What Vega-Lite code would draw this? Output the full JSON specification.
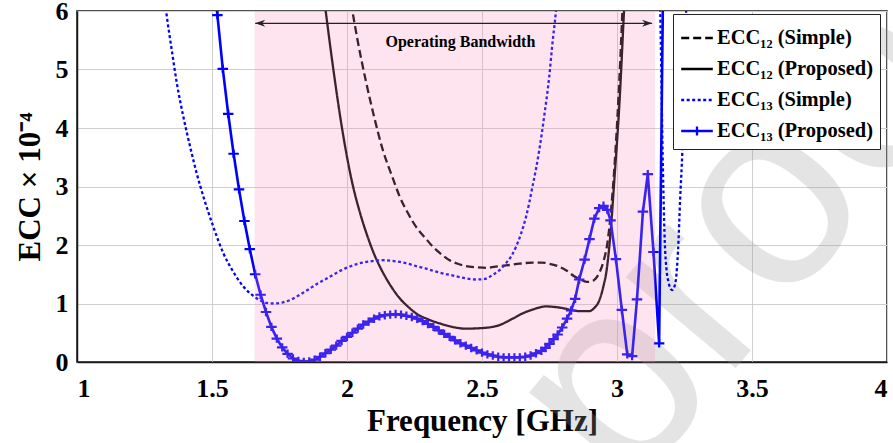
{
  "$schema": "https://vega.github.io/schema/vega-lite/v6.json",
  "width": 810,
  "height": 351,
  "autosize": {"type": "none"},
  "padding": {"left": 77, "top": 11, "right": 6, "bottom": 81},
  "background": "white",
  "config": {
    "view": {"stroke": "#1a1a1a", "strokeWidth": 1.5},
    "axis": {
      "labelFont": "Liberation Serif", "labelFontWeight": "bold", "labelFontSize": 26, "labelColor": "black",
      "titleFont": "Liberation Serif", "titleFontWeight": "bold", "titleFontSize": 31, "titleColor": "black",
      "gridColor": "#cfcfcf", "gridWidth": 1, "domainColor": "#1a1a1a", "domainWidth": 1.5, "ticks": false
    }
  },
  "datasets": {
    "curves": [
      {"series": "ECC₁₂ (Simple)", "seg": 1, "freq": 2.00, "ecc": 6.55},
      {"series": "ECC₁₂ (Simple)", "seg": 1, "freq": 2.02, "ecc": 6.0},
      {"series": "ECC₁₂ (Simple)", "seg": 1, "freq": 2.04, "ecc": 5.48},
      {"series": "ECC₁₂ (Simple)", "seg": 1, "freq": 2.07, "ecc": 4.8},
      {"series": "ECC₁₂ (Simple)", "seg": 1, "freq": 2.10, "ecc": 4.2},
      {"series": "ECC₁₂ (Simple)", "seg": 1, "freq": 2.133, "ecc": 3.62},
      {"series": "ECC₁₂ (Simple)", "seg": 1, "freq": 2.165, "ecc": 3.2},
      {"series": "ECC₁₂ (Simple)", "seg": 1, "freq": 2.195, "ecc": 2.83},
      {"series": "ECC₁₂ (Simple)", "seg": 1, "freq": 2.225, "ecc": 2.55},
      {"series": "ECC₁₂ (Simple)", "seg": 1, "freq": 2.256, "ecc": 2.31},
      {"series": "ECC₁₂ (Simple)", "seg": 1, "freq": 2.29, "ecc": 2.12},
      {"series": "ECC₁₂ (Simple)", "seg": 1, "freq": 2.318, "ecc": 1.97},
      {"series": "ECC₁₂ (Simple)", "seg": 1, "freq": 2.35, "ecc": 1.84},
      {"series": "ECC₁₂ (Simple)", "seg": 1, "freq": 2.38, "ecc": 1.74},
      {"series": "ECC₁₂ (Simple)", "seg": 1, "freq": 2.41, "ecc": 1.68},
      {"series": "ECC₁₂ (Simple)", "seg": 1, "freq": 2.441, "ecc": 1.64},
      {"series": "ECC₁₂ (Simple)", "seg": 1, "freq": 2.48, "ecc": 1.62},
      {"series": "ECC₁₂ (Simple)", "seg": 1, "freq": 2.515, "ecc": 1.61},
      {"series": "ECC₁₂ (Simple)", "seg": 1, "freq": 2.55, "ecc": 1.63},
      {"series": "ECC₁₂ (Simple)", "seg": 1, "freq": 2.589, "ecc": 1.65},
      {"series": "ECC₁₂ (Simple)", "seg": 1, "freq": 2.64, "ecc": 1.68},
      {"series": "ECC₁₂ (Simple)", "seg": 1, "freq": 2.687, "ecc": 1.70},
      {"series": "ECC₁₂ (Simple)", "seg": 1, "freq": 2.72, "ecc": 1.70},
      {"series": "ECC₁₂ (Simple)", "seg": 1, "freq": 2.749, "ecc": 1.68},
      {"series": "ECC₁₂ (Simple)", "seg": 1, "freq": 2.78, "ecc": 1.64},
      {"series": "ECC₁₂ (Simple)", "seg": 1, "freq": 2.811, "ecc": 1.57},
      {"series": "ECC₁₂ (Simple)", "seg": 1, "freq": 2.84, "ecc": 1.47},
      {"series": "ECC₁₂ (Simple)", "seg": 1, "freq": 2.86, "ecc": 1.42},
      {"series": "ECC₁₂ (Simple)", "seg": 1, "freq": 2.88, "ecc": 1.38},
      {"series": "ECC₁₂ (Simple)", "seg": 1, "freq": 2.897, "ecc": 1.37},
      {"series": "ECC₁₂ (Simple)", "seg": 1, "freq": 2.915, "ecc": 1.40},
      {"series": "ECC₁₂ (Simple)", "seg": 1, "freq": 2.934, "ecc": 1.52},
      {"series": "ECC₁₂ (Simple)", "seg": 1, "freq": 2.95, "ecc": 1.72},
      {"series": "ECC₁₂ (Simple)", "seg": 1, "freq": 2.965, "ecc": 2.05},
      {"series": "ECC₁₂ (Simple)", "seg": 1, "freq": 2.977, "ecc": 2.55},
      {"series": "ECC₁₂ (Simple)", "seg": 1, "freq": 2.99, "ecc": 3.3},
      {"series": "ECC₁₂ (Simple)", "seg": 1, "freq": 3.005, "ecc": 4.48},
      {"series": "ECC₁₂ (Simple)", "seg": 1, "freq": 3.02, "ecc": 6.0},
      {"series": "ECC₁₂ (Simple)", "seg": 1, "freq": 3.03, "ecc": 7.2},

      {"series": "ECC₁₂ (Proposed)", "seg": 1, "freq": 1.90, "ecc": 6.75},
      {"series": "ECC₁₂ (Proposed)", "seg": 1, "freq": 1.921, "ecc": 6.0},
      {"series": "ECC₁₂ (Proposed)", "seg": 1, "freq": 1.948, "ecc": 5.05},
      {"series": "ECC₁₂ (Proposed)", "seg": 1, "freq": 1.985, "ecc": 3.9},
      {"series": "ECC₁₂ (Proposed)", "seg": 1, "freq": 2.02, "ecc": 3.05},
      {"series": "ECC₁₂ (Proposed)", "seg": 1, "freq": 2.045, "ecc": 2.6},
      {"series": "ECC₁₂ (Proposed)", "seg": 1, "freq": 2.072, "ecc": 2.2},
      {"series": "ECC₁₂ (Proposed)", "seg": 1, "freq": 2.10, "ecc": 1.85},
      {"series": "ECC₁₂ (Proposed)", "seg": 1, "freq": 2.133, "ecc": 1.53},
      {"series": "ECC₁₂ (Proposed)", "seg": 1, "freq": 2.165, "ecc": 1.28},
      {"series": "ECC₁₂ (Proposed)", "seg": 1, "freq": 2.195, "ecc": 1.09},
      {"series": "ECC₁₂ (Proposed)", "seg": 1, "freq": 2.225, "ecc": 0.95},
      {"series": "ECC₁₂ (Proposed)", "seg": 1, "freq": 2.256, "ecc": 0.83},
      {"series": "ECC₁₂ (Proposed)", "seg": 1, "freq": 2.30, "ecc": 0.73},
      {"series": "ECC₁₂ (Proposed)", "seg": 1, "freq": 2.343, "ecc": 0.66},
      {"series": "ECC₁₂ (Proposed)", "seg": 1, "freq": 2.39, "ecc": 0.60},
      {"series": "ECC₁₂ (Proposed)", "seg": 1, "freq": 2.44, "ecc": 0.57},
      {"series": "ECC₁₂ (Proposed)", "seg": 1, "freq": 2.50, "ecc": 0.58},
      {"series": "ECC₁₂ (Proposed)", "seg": 1, "freq": 2.564, "ecc": 0.63},
      {"series": "ECC₁₂ (Proposed)", "seg": 1, "freq": 2.613, "ecc": 0.74},
      {"series": "ECC₁₂ (Proposed)", "seg": 1, "freq": 2.65, "ecc": 0.83},
      {"series": "ECC₁₂ (Proposed)", "seg": 1, "freq": 2.69, "ecc": 0.90},
      {"series": "ECC₁₂ (Proposed)", "seg": 1, "freq": 2.737, "ecc": 0.95},
      {"series": "ECC₁₂ (Proposed)", "seg": 1, "freq": 2.77, "ecc": 0.94},
      {"series": "ECC₁₂ (Proposed)", "seg": 1, "freq": 2.80, "ecc": 0.92},
      {"series": "ECC₁₂ (Proposed)", "seg": 1, "freq": 2.83, "ecc": 0.89},
      {"series": "ECC₁₂ (Proposed)", "seg": 1, "freq": 2.86, "ecc": 0.87},
      {"series": "ECC₁₂ (Proposed)", "seg": 1, "freq": 2.897, "ecc": 0.87},
      {"series": "ECC₁₂ (Proposed)", "seg": 1, "freq": 2.915, "ecc": 0.92},
      {"series": "ECC₁₂ (Proposed)", "seg": 1, "freq": 2.935, "ecc": 1.06},
      {"series": "ECC₁₂ (Proposed)", "seg": 1, "freq": 2.95, "ecc": 1.3},
      {"series": "ECC₁₂ (Proposed)", "seg": 1, "freq": 2.96, "ecc": 1.52},
      {"series": "ECC₁₂ (Proposed)", "seg": 1, "freq": 2.977, "ecc": 2.26},
      {"series": "ECC₁₂ (Proposed)", "seg": 1, "freq": 2.99, "ecc": 3.1},
      {"series": "ECC₁₂ (Proposed)", "seg": 1, "freq": 3.01, "ecc": 4.5},
      {"series": "ECC₁₂ (Proposed)", "seg": 1, "freq": 3.026, "ecc": 6.0},
      {"series": "ECC₁₂ (Proposed)", "seg": 1, "freq": 3.035, "ecc": 6.8},

      {"series": "ECC₁₃ (Simple)", "seg": 1, "freq": 1.31, "ecc": 6.8},
      {"series": "ECC₁₃ (Simple)", "seg": 1, "freq": 1.33, "ecc": 6.0},
      {"series": "ECC₁₃ (Simple)", "seg": 1, "freq": 1.351, "ecc": 5.33},
      {"series": "ECC₁₃ (Simple)", "seg": 1, "freq": 1.37, "ecc": 4.76},
      {"series": "ECC₁₃ (Simple)", "seg": 1, "freq": 1.394, "ecc": 4.19},
      {"series": "ECC₁₃ (Simple)", "seg": 1, "freq": 1.419, "ecc": 3.68},
      {"series": "ECC₁₃ (Simple)", "seg": 1, "freq": 1.443, "ecc": 3.23},
      {"series": "ECC₁₃ (Simple)", "seg": 1, "freq": 1.468, "ecc": 2.83},
      {"series": "ECC₁₃ (Simple)", "seg": 1, "freq": 1.505, "ecc": 2.31},
      {"series": "ECC₁₃ (Simple)", "seg": 1, "freq": 1.542, "ecc": 1.86},
      {"series": "ECC₁₃ (Simple)", "seg": 1, "freq": 1.579, "ecc": 1.54},
      {"series": "ECC₁₃ (Simple)", "seg": 1, "freq": 1.616, "ecc": 1.29},
      {"series": "ECC₁₃ (Simple)", "seg": 1, "freq": 1.653, "ecc": 1.13},
      {"series": "ECC₁₃ (Simple)", "seg": 1, "freq": 1.68, "ecc": 1.05},
      {"series": "ECC₁₃ (Simple)", "seg": 1, "freq": 1.702, "ecc": 1.01},
      {"series": "ECC₁₃ (Simple)", "seg": 1, "freq": 1.73, "ecc": 1.0},
      {"series": "ECC₁₃ (Simple)", "seg": 1, "freq": 1.763, "ecc": 1.02},
      {"series": "ECC₁₃ (Simple)", "seg": 1, "freq": 1.795, "ecc": 1.07},
      {"series": "ECC₁₃ (Simple)", "seg": 1, "freq": 1.825, "ecc": 1.15},
      {"series": "ECC₁₃ (Simple)", "seg": 1, "freq": 1.857, "ecc": 1.24},
      {"series": "ECC₁₃ (Simple)", "seg": 1, "freq": 1.887, "ecc": 1.33},
      {"series": "ECC₁₃ (Simple)", "seg": 1, "freq": 1.918, "ecc": 1.41},
      {"series": "ECC₁₃ (Simple)", "seg": 1, "freq": 1.948, "ecc": 1.49},
      {"series": "ECC₁₃ (Simple)", "seg": 1, "freq": 1.98, "ecc": 1.57},
      {"series": "ECC₁₃ (Simple)", "seg": 1, "freq": 2.01, "ecc": 1.63},
      {"series": "ECC₁₃ (Simple)", "seg": 1, "freq": 2.04, "ecc": 1.68},
      {"series": "ECC₁₃ (Simple)", "seg": 1, "freq": 2.072, "ecc": 1.71},
      {"series": "ECC₁₃ (Simple)", "seg": 1, "freq": 2.10, "ecc": 1.73},
      {"series": "ECC₁₃ (Simple)", "seg": 1, "freq": 2.133, "ecc": 1.74},
      {"series": "ECC₁₃ (Simple)", "seg": 1, "freq": 2.165, "ecc": 1.73},
      {"series": "ECC₁₃ (Simple)", "seg": 1, "freq": 2.195, "ecc": 1.71},
      {"series": "ECC₁₃ (Simple)", "seg": 1, "freq": 2.225, "ecc": 1.68},
      {"series": "ECC₁₃ (Simple)", "seg": 1, "freq": 2.256, "ecc": 1.64},
      {"series": "ECC₁₃ (Simple)", "seg": 1, "freq": 2.29, "ecc": 1.60},
      {"series": "ECC₁₃ (Simple)", "seg": 1, "freq": 2.318, "ecc": 1.56},
      {"series": "ECC₁₃ (Simple)", "seg": 1, "freq": 2.35, "ecc": 1.52},
      {"series": "ECC₁₃ (Simple)", "seg": 1, "freq": 2.38, "ecc": 1.49},
      {"series": "ECC₁₃ (Simple)", "seg": 1, "freq": 2.41, "ecc": 1.46},
      {"series": "ECC₁₃ (Simple)", "seg": 1, "freq": 2.441, "ecc": 1.43},
      {"series": "ECC₁₃ (Simple)", "seg": 1, "freq": 2.478, "ecc": 1.41},
      {"series": "ECC₁₃ (Simple)", "seg": 1, "freq": 2.51, "ecc": 1.42},
      {"series": "ECC₁₃ (Simple)", "seg": 1, "freq": 2.54, "ecc": 1.49},
      {"series": "ECC₁₃ (Simple)", "seg": 1, "freq": 2.565, "ecc": 1.57},
      {"series": "ECC₁₃ (Simple)", "seg": 1, "freq": 2.589, "ecc": 1.69},
      {"series": "ECC₁₃ (Simple)", "seg": 1, "freq": 2.61, "ecc": 1.82},
      {"series": "ECC₁₃ (Simple)", "seg": 1, "freq": 2.626, "ecc": 1.97},
      {"series": "ECC₁₃ (Simple)", "seg": 1, "freq": 2.645, "ecc": 2.2},
      {"series": "ECC₁₃ (Simple)", "seg": 1, "freq": 2.663, "ecc": 2.48},
      {"series": "ECC₁₃ (Simple)", "seg": 1, "freq": 2.675, "ecc": 2.72},
      {"series": "ECC₁₃ (Simple)", "seg": 1, "freq": 2.687, "ecc": 3.0},
      {"series": "ECC₁₃ (Simple)", "seg": 1, "freq": 2.70, "ecc": 3.3},
      {"series": "ECC₁₃ (Simple)", "seg": 1, "freq": 2.712, "ecc": 3.62},
      {"series": "ECC₁₃ (Simple)", "seg": 1, "freq": 2.73, "ecc": 4.19},
      {"series": "ECC₁₃ (Simple)", "seg": 1, "freq": 2.749, "ecc": 4.88},
      {"series": "ECC₁₃ (Simple)", "seg": 1, "freq": 2.761, "ecc": 5.45},
      {"series": "ECC₁₃ (Simple)", "seg": 1, "freq": 2.774, "ecc": 6.0},
      {"series": "ECC₁₃ (Simple)", "seg": 1, "freq": 2.785, "ecc": 6.6},
      {"series": "ECC₁₃ (Simple)", "seg": 2, "freq": 3.155, "ecc": 6.6},
      {"series": "ECC₁₃ (Simple)", "seg": 2, "freq": 3.16, "ecc": 6.0},
      {"series": "ECC₁₃ (Simple)", "seg": 2, "freq": 3.164, "ecc": 5.0},
      {"series": "ECC₁₃ (Simple)", "seg": 2, "freq": 3.168, "ecc": 3.8},
      {"series": "ECC₁₃ (Simple)", "seg": 2, "freq": 3.172, "ecc": 2.9},
      {"series": "ECC₁₃ (Simple)", "seg": 2, "freq": 3.177, "ecc": 2.05},
      {"series": "ECC₁₃ (Simple)", "seg": 2, "freq": 3.183, "ecc": 1.6},
      {"series": "ECC₁₃ (Simple)", "seg": 2, "freq": 3.19, "ecc": 1.38},
      {"series": "ECC₁₃ (Simple)", "seg": 2, "freq": 3.197, "ecc": 1.27},
      {"series": "ECC₁₃ (Simple)", "seg": 2, "freq": 3.204, "ecc": 1.23},
      {"series": "ECC₁₃ (Simple)", "seg": 2, "freq": 3.211, "ecc": 1.27},
      {"series": "ECC₁₃ (Simple)", "seg": 2, "freq": 3.218, "ecc": 1.4},
      {"series": "ECC₁₃ (Simple)", "seg": 2, "freq": 3.226, "ecc": 1.9},
      {"series": "ECC₁₃ (Simple)", "seg": 2, "freq": 3.234, "ecc": 2.8},
      {"series": "ECC₁₃ (Simple)", "seg": 2, "freq": 3.242, "ecc": 3.6},
      {"series": "ECC₁₃ (Simple)", "seg": 2, "freq": 3.25, "ecc": 4.8},
      {"series": "ECC₁₃ (Simple)", "seg": 2, "freq": 3.256, "ecc": 6.0},
      {"series": "ECC₁₃ (Simple)", "seg": 2, "freq": 3.26, "ecc": 6.6}
    ],
    "p13": [
      {"freq": 1.50, "ecc": 6.9}, {"freq": 1.52, "ecc": 5.93}, {"freq": 1.54, "ecc": 5.01}, {"freq": 1.56, "ecc": 4.24},
      {"freq": 1.58, "ecc": 3.56}, {"freq": 1.60, "ecc": 2.95}, {"freq": 1.62, "ecc": 2.41}, {"freq": 1.64, "ecc": 1.93},
      {"freq": 1.66, "ecc": 1.50}, {"freq": 1.68, "ecc": 1.15}, {"freq": 1.70, "ecc": 0.855}, {"freq": 1.72, "ecc": 0.60},
      {"freq": 1.74, "ecc": 0.40}, {"freq": 1.76, "ecc": 0.25}, {"freq": 1.78, "ecc": 0.14}, {"freq": 1.80, "ecc": 0.06},
      {"freq": 1.82, "ecc": 0.02}, {"freq": 1.84, "ecc": 0.0}, {"freq": 1.86, "ecc": 0.01}, {"freq": 1.88, "ecc": 0.04},
      {"freq": 1.90, "ecc": 0.09}, {"freq": 1.92, "ecc": 0.15}, {"freq": 1.94, "ecc": 0.21}, {"freq": 1.96, "ecc": 0.28},
      {"freq": 1.98, "ecc": 0.36}, {"freq": 2.00, "ecc": 0.43}, {"freq": 2.02, "ecc": 0.50}, {"freq": 2.04, "ecc": 0.57},
      {"freq": 2.06, "ecc": 0.64}, {"freq": 2.08, "ecc": 0.69}, {"freq": 2.10, "ecc": 0.74}, {"freq": 2.12, "ecc": 0.78},
      {"freq": 2.14, "ecc": 0.80}, {"freq": 2.16, "ecc": 0.81}, {"freq": 2.18, "ecc": 0.82}, {"freq": 2.20, "ecc": 0.81},
      {"freq": 2.22, "ecc": 0.79}, {"freq": 2.24, "ecc": 0.77}, {"freq": 2.26, "ecc": 0.74}, {"freq": 2.28, "ecc": 0.70},
      {"freq": 2.30, "ecc": 0.65}, {"freq": 2.32, "ecc": 0.60}, {"freq": 2.34, "ecc": 0.54}, {"freq": 2.36, "ecc": 0.48},
      {"freq": 2.38, "ecc": 0.43}, {"freq": 2.40, "ecc": 0.37}, {"freq": 2.42, "ecc": 0.32}, {"freq": 2.44, "ecc": 0.28},
      {"freq": 2.46, "ecc": 0.24}, {"freq": 2.48, "ecc": 0.20}, {"freq": 2.50, "ecc": 0.16}, {"freq": 2.52, "ecc": 0.13},
      {"freq": 2.54, "ecc": 0.11}, {"freq": 2.56, "ecc": 0.09}, {"freq": 2.58, "ecc": 0.08}, {"freq": 2.60, "ecc": 0.08},
      {"freq": 2.62, "ecc": 0.08}, {"freq": 2.64, "ecc": 0.08}, {"freq": 2.66, "ecc": 0.09}, {"freq": 2.68, "ecc": 0.11},
      {"freq": 2.70, "ecc": 0.15}, {"freq": 2.72, "ecc": 0.19}, {"freq": 2.735, "ecc": 0.24}, {"freq": 2.75, "ecc": 0.31},
      {"freq": 2.765, "ecc": 0.39}, {"freq": 2.78, "ecc": 0.47}, {"freq": 2.797, "ecc": 0.59}, {"freq": 2.815, "ecc": 0.74},
      {"freq": 2.83, "ecc": 0.88}, {"freq": 2.845, "ecc": 1.08}, {"freq": 2.86, "ecc": 1.41}, {"freq": 2.88, "ecc": 1.75},
      {"freq": 2.898, "ecc": 2.10}, {"freq": 2.916, "ecc": 2.45}, {"freq": 2.934, "ecc": 2.63}, {"freq": 2.95, "ecc": 2.67},
      {"freq": 2.964, "ecc": 2.60}, {"freq": 2.976, "ecc": 2.42}, {"freq": 2.996, "ecc": 1.76}, {"freq": 3.018, "ecc": 0.89},
      {"freq": 3.038, "ecc": 0.13}, {"freq": 3.056, "ecc": 0.10}, {"freq": 3.074, "ecc": 1.07}, {"freq": 3.096, "ecc": 2.57},
      {"freq": 3.114, "ecc": 3.21}, {"freq": 3.135, "ecc": 1.88}, {"freq": 3.156, "ecc": 0.32}, {"freq": 3.172, "ecc": 7.0}
    ],
    "band": [{"start": 1.658, "end": 3.141, "arrowStart": 1.66, "arrowEnd": 3.13, "arrowLevel": 5.79}],
    "notes": [{"label": "Operating Bandwidth", "freq": 2.42, "ecc": 5.47}],
    "stamp": [{"word": "proof", "freq": 3.54, "ecc": 2.6}]
  },
  "layer": [
    {
      "data": {"name": "stamp"},
      "mark": {"type": "text", "font": "Liberation Sans", "fontSize": 270, "angle": -50, "align": "center", "baseline": "middle", "fill": "#999999", "opacity": 0.26, "clip": false},
      "encoding": {
        "x": {"field": "freq", "type": "quantitative", "scale": {"domain": [1, 4], "nice": false, "zero": false},
              "axis": {"values": [1, 1.5, 2, 2.5, 3, 3.5, 4], "format": "~g", "title": "Frequency [GHz]", "labelPadding": 13, "titlePadding": 5, "grid": true}},
        "y": {"field": "ecc", "type": "quantitative", "scale": {"domain": [0, 6], "nice": false, "zero": false},
              "axis": {"values": [0, 1, 2, 3, 4, 5, 6], "format": "d", "title": "ECC × 10⁻⁴", "labelPadding": 9, "titlePadding": 9, "grid": true}},
        "text": {"field": "word"}
      }
    },
    {
      "data": {"name": "curves"},
      "mark": {"type": "line", "interpolate": "monotone", "clip": true},
      "encoding": {
        "x": {"field": "freq", "type": "quantitative", "scale": {"domain": [1, 4], "nice": false, "zero": false}},
        "y": {"field": "ecc", "type": "quantitative", "scale": {"domain": [0, 6], "nice": false, "zero": false}},
        "detail": {"field": "seg"},
        "color": {
          "field": "series", "type": "nominal",
          "scale": {"domain": ["ECC₁₂ (Simple)", "ECC₁₂ (Proposed)", "ECC₁₃ (Simple)", "ECC₁₃ (Proposed)"], "range": ["#000000", "#000000", "#0000ff", "#0000ff"]},
          "legend": {
            "orient": "none", "legendX": 596, "legendY": 3, "title": null,
            "symbolType": "stroke", "symbolSize": 1000, "symbolStrokeWidth": 2.6,
            "labelFont": "Liberation Serif", "labelFontWeight": "bold", "labelFontSize": 20.5, "labelColor": "black",
            "strokeColor": "#222222", "fillColor": "white", "padding": 7, "rowPadding": 3, "labelOffset": 3,
            "encode": {"symbols": {"update": {
              "strokeDash": {"signal": "datum.value == 'ECC₁₂ (Simple)' ? [7, 3] : datum.value == 'ECC₁₃ (Simple)' ? [2.5, 2] : [1, 0]"},
              "shape": {"signal": "datum.value == 'ECC₁₃ (Proposed)' ? 'M-1,0L1,0M0,-0.28L0,0.28' : 'M-1,0L1,0'"}
            }}}
          }
        },
        "strokeDash": {
          "field": "series", "type": "nominal",
          "scale": {"domain": ["ECC₁₂ (Simple)", "ECC₁₂ (Proposed)", "ECC₁₃ (Simple)", "ECC₁₃ (Proposed)"], "range": [[8, 4], [1, 0], [3, 2.5], [1, 0]]},
          "legend": null
        },
        "strokeWidth": {
          "field": "series", "type": "nominal",
          "scale": {"domain": ["ECC₁₂ (Simple)", "ECC₁₂ (Proposed)", "ECC₁₃ (Simple)", "ECC₁₃ (Proposed)"], "range": [2.3, 2.3, 3, 2.5]},
          "legend": null
        }
      }
    },
    {
      "data": {"name": "p13"},
      "mark": {"type": "line", "interpolate": "linear", "clip": true, "strokeWidth": 2.6, "color": "#0000ff"},
      "encoding": {
        "x": {"field": "freq", "type": "quantitative", "scale": {"domain": [1, 4], "nice": false, "zero": false}},
        "y": {"field": "ecc", "type": "quantitative", "scale": {"domain": [0, 6], "nice": false, "zero": false}}
      }
    },
    {
      "data": {"name": "p13"},
      "mark": {"type": "point", "shape": "M-1,0L1,0M0,-0.8L0,0.8", "size": 110, "filled": false, "stroke": "#0000ff", "strokeWidth": 2.2, "opacity": 1, "clip": true},
      "encoding": {
        "x": {"field": "freq", "type": "quantitative", "scale": {"domain": [1, 4], "nice": false, "zero": false}},
        "y": {"field": "ecc", "type": "quantitative", "scale": {"domain": [0, 6], "nice": false, "zero": false}}
      }
    },
    {
      "data": {"name": "band"},
      "mark": {"type": "rect", "fill": "#f590b8", "opacity": 0.24},
      "encoding": {
        "x": {"field": "start", "type": "quantitative", "scale": {"domain": [1, 4], "nice": false, "zero": false}},
        "x2": {"field": "end"},
        "y": {"datum": 0, "type": "quantitative", "scale": {"domain": [0, 6], "nice": false, "zero": false}},
        "y2": {"datum": 6}
      }
    },
    {
      "data": {"name": "band"},
      "mark": {"type": "rule", "color": "#222222", "strokeWidth": 1.2},
      "encoding": {
        "x": {"field": "arrowStart", "type": "quantitative", "scale": {"domain": [1, 4], "nice": false, "zero": false}},
        "x2": {"field": "arrowEnd"},
        "y": {"field": "arrowLevel", "type": "quantitative", "scale": {"domain": [0, 6], "nice": false, "zero": false}}
      }
    },
    {
      "data": {"name": "band"},
      "mark": {"type": "point", "shape": "M0,0L1,-0.35L0.7,0L1,0.35Z", "size": 400, "filled": true, "fill": "#222222", "opacity": 1},
      "encoding": {
        "x": {"field": "arrowStart", "type": "quantitative", "scale": {"domain": [1, 4], "nice": false, "zero": false}},
        "y": {"field": "arrowLevel", "type": "quantitative", "scale": {"domain": [0, 6], "nice": false, "zero": false}}
      }
    },
    {
      "data": {"name": "band"},
      "mark": {"type": "point", "shape": "M0,0L-1,-0.35L-0.7,0L-1,0.35Z", "size": 400, "filled": true, "fill": "#222222", "opacity": 1},
      "encoding": {
        "x": {"field": "arrowEnd", "type": "quantitative", "scale": {"domain": [1, 4], "nice": false, "zero": false}},
        "y": {"field": "arrowLevel", "type": "quantitative", "scale": {"domain": [0, 6], "nice": false, "zero": false}}
      }
    },
    {
      "data": {"name": "notes"},
      "mark": {"type": "text", "font": "Liberation Serif", "fontWeight": "bold", "fontSize": 16, "align": "center", "baseline": "middle", "color": "black"},
      "encoding": {
        "x": {"field": "freq", "type": "quantitative", "scale": {"domain": [1, 4], "nice": false, "zero": false}},
        "y": {"field": "ecc", "type": "quantitative", "scale": {"domain": [0, 6], "nice": false, "zero": false}},
        "text": {"field": "label"}
      }
    }
  ]
}
